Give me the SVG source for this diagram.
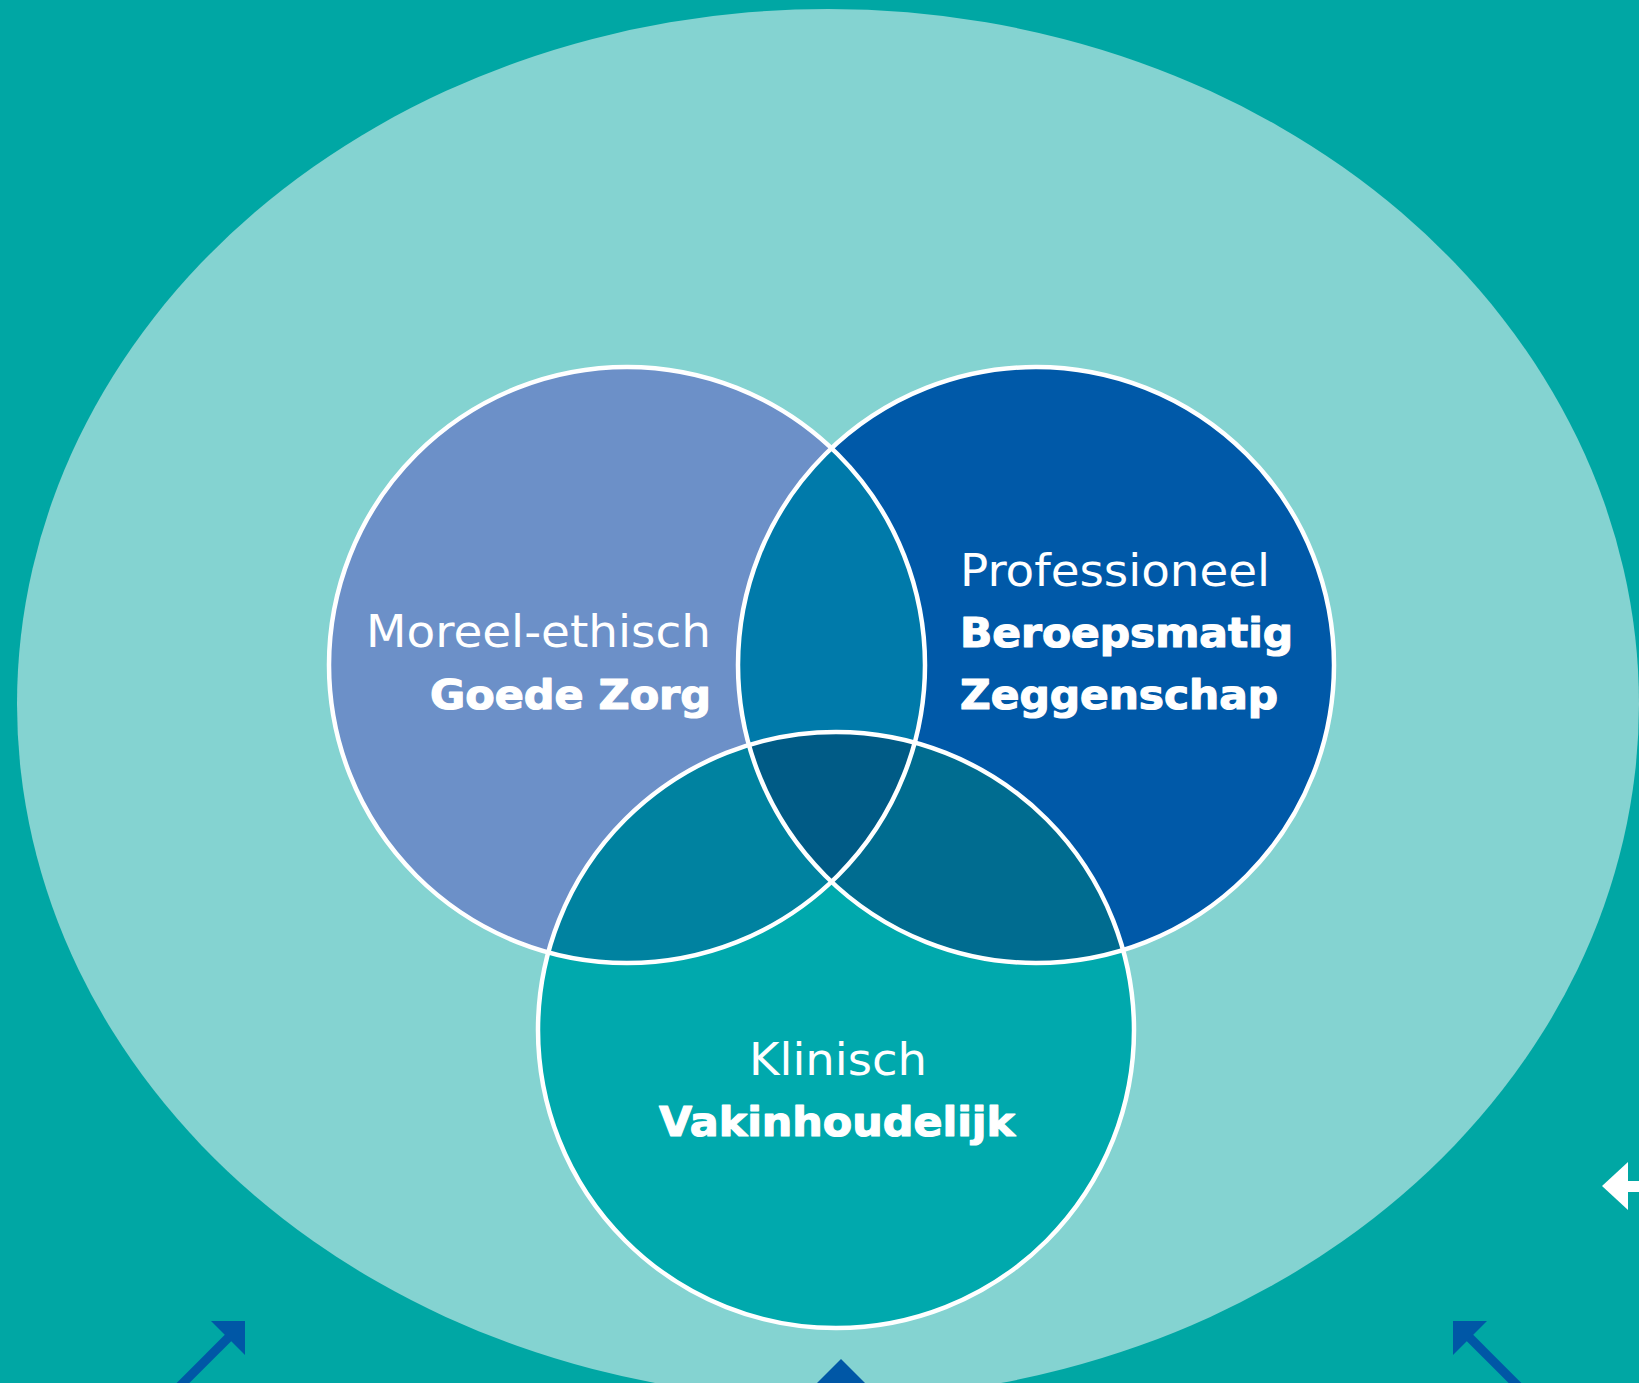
<svg xmlns="http://www.w3.org/2000/svg" width="1639" height="1383" viewBox="0 0 1639 1383">
<style>
.bg{fill:#00A7A4}
.halo{fill:#84D3D1}
.ring{fill:none;stroke:#ffffff;stroke-width:4.5}
.lbl{font-family:"DejaVu Sans","Noto Sans",sans-serif;fill:#ffffff}
.reg{font-size:44px;font-weight:400}
.bold{font-size:41px;font-weight:700;stroke:#ffffff;stroke-width:1.2;stroke-linejoin:round}
.blue{fill:#0057A6}
.blueline{stroke:#0057A6;stroke-width:9;fill:none}
</style>
<defs>
<clipPath id="cL"><circle cx="627" cy="665" r="298"/></clipPath>
<clipPath id="cR"><circle cx="1036" cy="665" r="298"/></clipPath>
</defs>
<rect class="bg" x="0" y="0" width="1639" height="1383"/>
<ellipse id="context" class="halo" cx="828" cy="704" rx="811" ry="695"/>
<g id="regions">
<circle cx="627" cy="665" r="298" fill="#6C90C8"/>
<circle cx="1036" cy="665" r="298" fill="#0059A8"/>
<circle cx="836" cy="1030" r="298" fill="#00A9AD"/>
<circle cx="1036" cy="665" r="298" fill="#007AAA" clip-path="url(#cL)"/>
<circle cx="836" cy="1030" r="298" fill="#0082A0" clip-path="url(#cL)"/>
<circle cx="836" cy="1030" r="298" fill="#006C90" clip-path="url(#cR)"/>
<g clip-path="url(#cL)"><circle cx="836" cy="1030" r="298" fill="#005B86" clip-path="url(#cR)"/></g>
</g>
<g id="node-moreel">
<circle class="ring" cx="627" cy="665" r="298"/>
<text class="lbl reg" x="366" y="647" textLength="345" lengthAdjust="spacingAndGlyphs">Moreel-ethisch</text>
<text class="lbl bold" x="430" y="709" textLength="281" lengthAdjust="spacingAndGlyphs">Goede Zorg</text>
</g>
<g id="node-professioneel">
<circle class="ring" cx="1036" cy="665" r="298"/>
<text class="lbl reg" x="960" y="586" textLength="310" lengthAdjust="spacingAndGlyphs">Professioneel</text>
<text class="lbl bold" x="960" y="647" textLength="333" lengthAdjust="spacingAndGlyphs">Beroepsmatig</text>
<text class="lbl bold" x="960" y="709" textLength="318" lengthAdjust="spacingAndGlyphs">Zeggenschap</text>
</g>
<g id="node-klinisch">
<circle class="ring" cx="836" cy="1030" r="298"/>
<text class="lbl reg" x="749" y="1075" textLength="178" lengthAdjust="spacingAndGlyphs">Klinisch</text>
<text class="lbl bold" x="659" y="1136" textLength="356" lengthAdjust="spacingAndGlyphs">Vakinhoudelijk</text>
</g>
<g id="connectors">
<line class="blueline" x1="232" y1="1334" x2="160" y2="1406"/>
<polygon class="blue" points="245,1321 211,1321 245,1355"/>
<line class="blueline" x1="1466" y1="1334" x2="1538" y2="1406"/>
<polygon class="blue" points="1453,1321 1487,1321 1453,1355"/>
<polygon class="blue" points="841,1359 817,1383 865,1383"/>
<rect x="1626" y="1181" width="20" height="11" fill="#ffffff"/>
<polygon points="1602,1186 1628,1162 1628,1210" fill="#ffffff"/>
</g>
</svg>
